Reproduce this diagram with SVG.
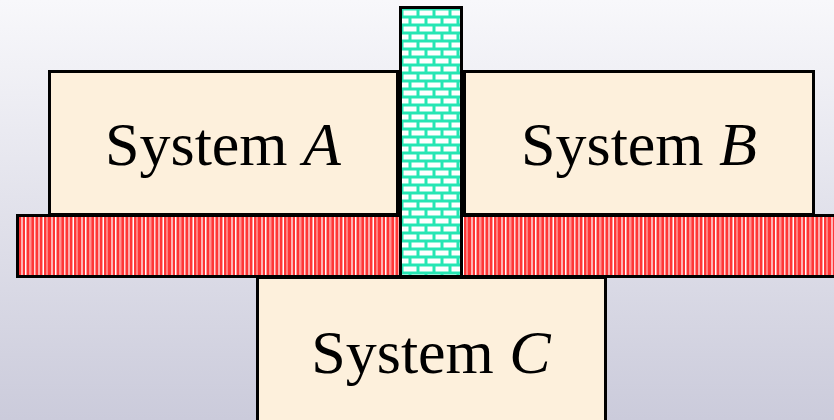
<svg xmlns="http://www.w3.org/2000/svg" width="834" height="420" viewBox="0 0 834 420">
  <defs>
    <linearGradient id="bg" x1="0" y1="0" x2="0" y2="1">
      <stop offset="0" stop-color="#f8f8fb"/>
      <stop offset="1" stop-color="#cbcbdb"/>
    </linearGradient>
    <!-- vertical red/pink stripes for the horizontal bar -->
    <pattern id="stripes" x="19" y="0" width="30" height="10" patternUnits="userSpaceOnUse">
      <rect width="30" height="10" fill="#ff3636"/>
      <rect x="2" width="2" height="10" fill="#ffb4b4"/>
      <rect x="6" width="1.5" height="10" fill="#ffffff"/>
      <rect x="10" width="2.5" height="10" fill="#ff9090"/>
      <rect x="15" width="1.5" height="10" fill="#ffd8d8"/>
      <rect x="19" width="2" height="10" fill="#ffa8a8"/>
      <rect x="23.5" width="1.5" height="10" fill="#ffffff"/>
      <rect x="27" width="2" height="10" fill="#ff8080"/>
    </pattern>
    <!-- brick wall for the vertical column -->
    <pattern id="brickwall" x="402" y="9" width="16" height="16" patternUnits="userSpaceOnUse">
      <rect width="16" height="16" fill="#26e6b4"/>
      <rect x="1.5" y="1.5" width="13" height="5" fill="#ffffff"/>
      <rect x="-6.5" y="9.5" width="13" height="5" fill="#ffffff"/>
      <rect x="9.5" y="9.5" width="13" height="5" fill="#ffffff"/>
    </pattern>
  </defs>
  <style>
    .box { fill: #fdf0dc; stroke: #000; stroke-width: 3; }
    .label { font-family: "Liberation Serif", "Times New Roman", serif; font-size: 62px; fill: #000; text-anchor: middle; }
    .it { font-style: italic; }
  </style>

  <rect width="834" height="420" fill="url(#bg)"/>

  <g id="system-a">
    <rect class="box" x="49.5" y="71.5" width="348" height="143"/>
    <text class="label" x="223" y="165">System <tspan class="it">A</tspan></text>
  </g>

  <g id="system-b">
    <rect class="box" x="464.5" y="71.5" width="349" height="143"/>
    <text class="label" x="639" y="165">System <tspan class="it">B</tspan></text>
  </g>

  <g id="bar">
    <rect x="17.5" y="215.5" width="830" height="61" fill="url(#stripes)" stroke="#000" stroke-width="3"/>
  </g>

  <g id="system-c">
    <rect class="box" x="257.5" y="277.5" width="348" height="150"/>
    <text class="label" x="431" y="373">System <tspan class="it">C</tspan></text>
  </g>

  <g id="column">
    <rect x="400.5" y="7.5" width="61" height="269" fill="url(#brickwall)" stroke="#000" stroke-width="3"/>
  </g>

  <g id="connectors"></g>
</svg>
